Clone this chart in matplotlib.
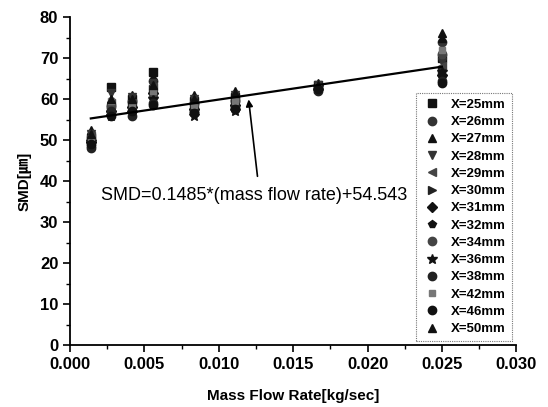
import numpy as np
import matplotlib
matplotlib.use("Agg")
import matplotlib.pyplot as plt
from matplotlib.ticker import MultipleLocator

plt.rcParams['font.family'] = ['Liberation Sans', 'Noto Sans CJK KR', 'DejaVu Sans']

mass_flow = [0.00139, 0.00278, 0.00417, 0.00556, 0.00833, 0.01111, 0.01667, 0.025]

labels = ['X=25mm', 'X=26mm', 'X=27mm', 'X=28mm', 'X=29mm', 'X=30mm', 'X=31mm',
          'X=32mm', 'X=34mm', 'X=36mm', 'X=38mm', 'X=42mm', 'X=46mm', 'X=50mm']

smd_25 = [50.5, 63.0, 60.0, 66.5, 59.5, 60.5, 63.5, 70.0]
smd_26 = [50.0, 58.5, 59.5, 64.5, 59.0, 59.5, 63.0, 74.0]
smd_27 = [52.5, 60.0, 61.0, 65.5, 61.0, 62.0, 64.0, 75.0]
smd_28 = [51.5, 61.5, 60.5, 64.0, 60.0, 61.0, 63.5, 69.0]
smd_29 = [51.0, 59.0, 59.0, 63.0, 58.5, 60.0, 63.0, 68.0]
smd_30 = [50.0, 57.5, 58.5, 62.5, 58.0, 59.0, 62.5, 67.0]
smd_31 = [49.5, 57.0, 58.0, 61.5, 57.5, 58.5, 62.5, 66.0]
smd_32 = [49.0, 56.5, 57.5, 61.0, 57.0, 58.0, 62.0, 65.5]
smd_34 = [48.5, 58.0, 57.0, 60.5, 56.5, 57.5, 62.5, 71.0]
smd_36 = [49.5, 56.0, 56.5, 60.0, 56.0, 57.0, 63.0, 66.5]
smd_38 = [48.0, 57.0, 56.0, 59.0, 57.0, 58.0, 62.0, 64.5]
smd_42 = [50.5, 59.5, 58.0, 62.0, 58.5, 59.5, 63.0, 72.0]
smd_46 = [49.0, 55.8, 57.0, 58.5, 56.5, 57.5, 62.5, 64.0]
smd_50 = [51.5, 60.0, 60.0, 63.5, 60.0, 61.5, 63.5, 76.0]

all_smd = [smd_25, smd_26, smd_27, smd_28, smd_29, smd_30, smd_31,
           smd_32, smd_34, smd_36, smd_38, smd_42, smd_46, smd_50]

markers = ['s', 'o', '^', 'v', '<', '>', 'D', 'p', 'o', '*', 'o', 's', 'o', '^']
colors = ['#111111', '#333333', '#111111', '#333333', '#444444', '#222222', '#111111',
          '#111111', '#444444', '#111111', '#222222', '#777777', '#111111', '#111111']
sizes = [6, 6, 6, 6, 6, 6, 5, 6, 6, 7, 6, 5, 6, 6]

# regression line  SMD = 0.1485*(kg/hr) + 54.543
slope = 0.1485 * 3600
intercept = 54.543
line_x = np.array([mass_flow[0], mass_flow[-1]])
line_y = slope * line_x + intercept

fig = plt.figure(figsize=(5.48, 4.07), dpi=100)
ax = fig.add_axes([0.128, 0.152, 0.814, 0.806])

for i in range(len(labels)):
    ax.plot(mass_flow, all_smd[i], linestyle='none', marker=markers[i],
            color=colors[i], markersize=sizes[i], label=labels[i])

ax.plot(line_x, line_y, color='black', linewidth=1.6)

ax.annotate('SMD=0.1485*(mass flow rate)+54.543', xy=(0.01198, 60.6), xytext=(0.0021, 36.5),
            fontsize=13, va='center', ha='left')
ax.annotate('', xy=(0.01198, 60.6), xytext=(0.01262, 40.5),
            arrowprops=dict(arrowstyle='-|>', color='black', lw=1.2, mutation_scale=10))

ax.set_xlim(0, 0.030)
ax.set_ylim(0, 80)
ax.xaxis.set_major_locator(MultipleLocator(0.005))
ax.xaxis.set_minor_locator(MultipleLocator(0.0025))
ax.yaxis.set_major_locator(MultipleLocator(10))
ax.yaxis.set_minor_locator(MultipleLocator(5))
ax.xaxis.set_major_formatter(matplotlib.ticker.FormatStrFormatter('%.3f'))
ax.spines['top'].set_visible(False)
ax.spines['right'].set_visible(False)
ax.spines['left'].set_linewidth(1.3)
ax.spines['bottom'].set_linewidth(1.3)
ax.tick_params(which='major', direction='out', length=5, width=1.2, labelsize=12)
ax.tick_params(which='minor', direction='out', length=3, width=1.0)
for t in ax.get_xticklabels() + ax.get_yticklabels():
    t.set_fontweight('bold')

ax.set_xlabel('Mass Flow Rate[kg/sec]', fontsize=11, fontweight='bold', labelpad=12)
ax.set_ylabel('SMD[㎛]', fontsize=11, fontweight='bold', labelpad=6)

leg = ax.legend(loc='lower right', frameon=True, fancybox=False,
                borderaxespad=0.3, labelspacing=0.38, handletextpad=0.7, handlelength=1.5,
                borderpad=0.45, prop={'weight': 'bold', 'size': 9.5})
leg.get_frame().set_edgecolor('#555555')
leg.get_frame().set_linestyle((0, (1, 1)))
leg.get_frame().set_linewidth(0.8)

fig.savefig('out.png', dpi=100)
